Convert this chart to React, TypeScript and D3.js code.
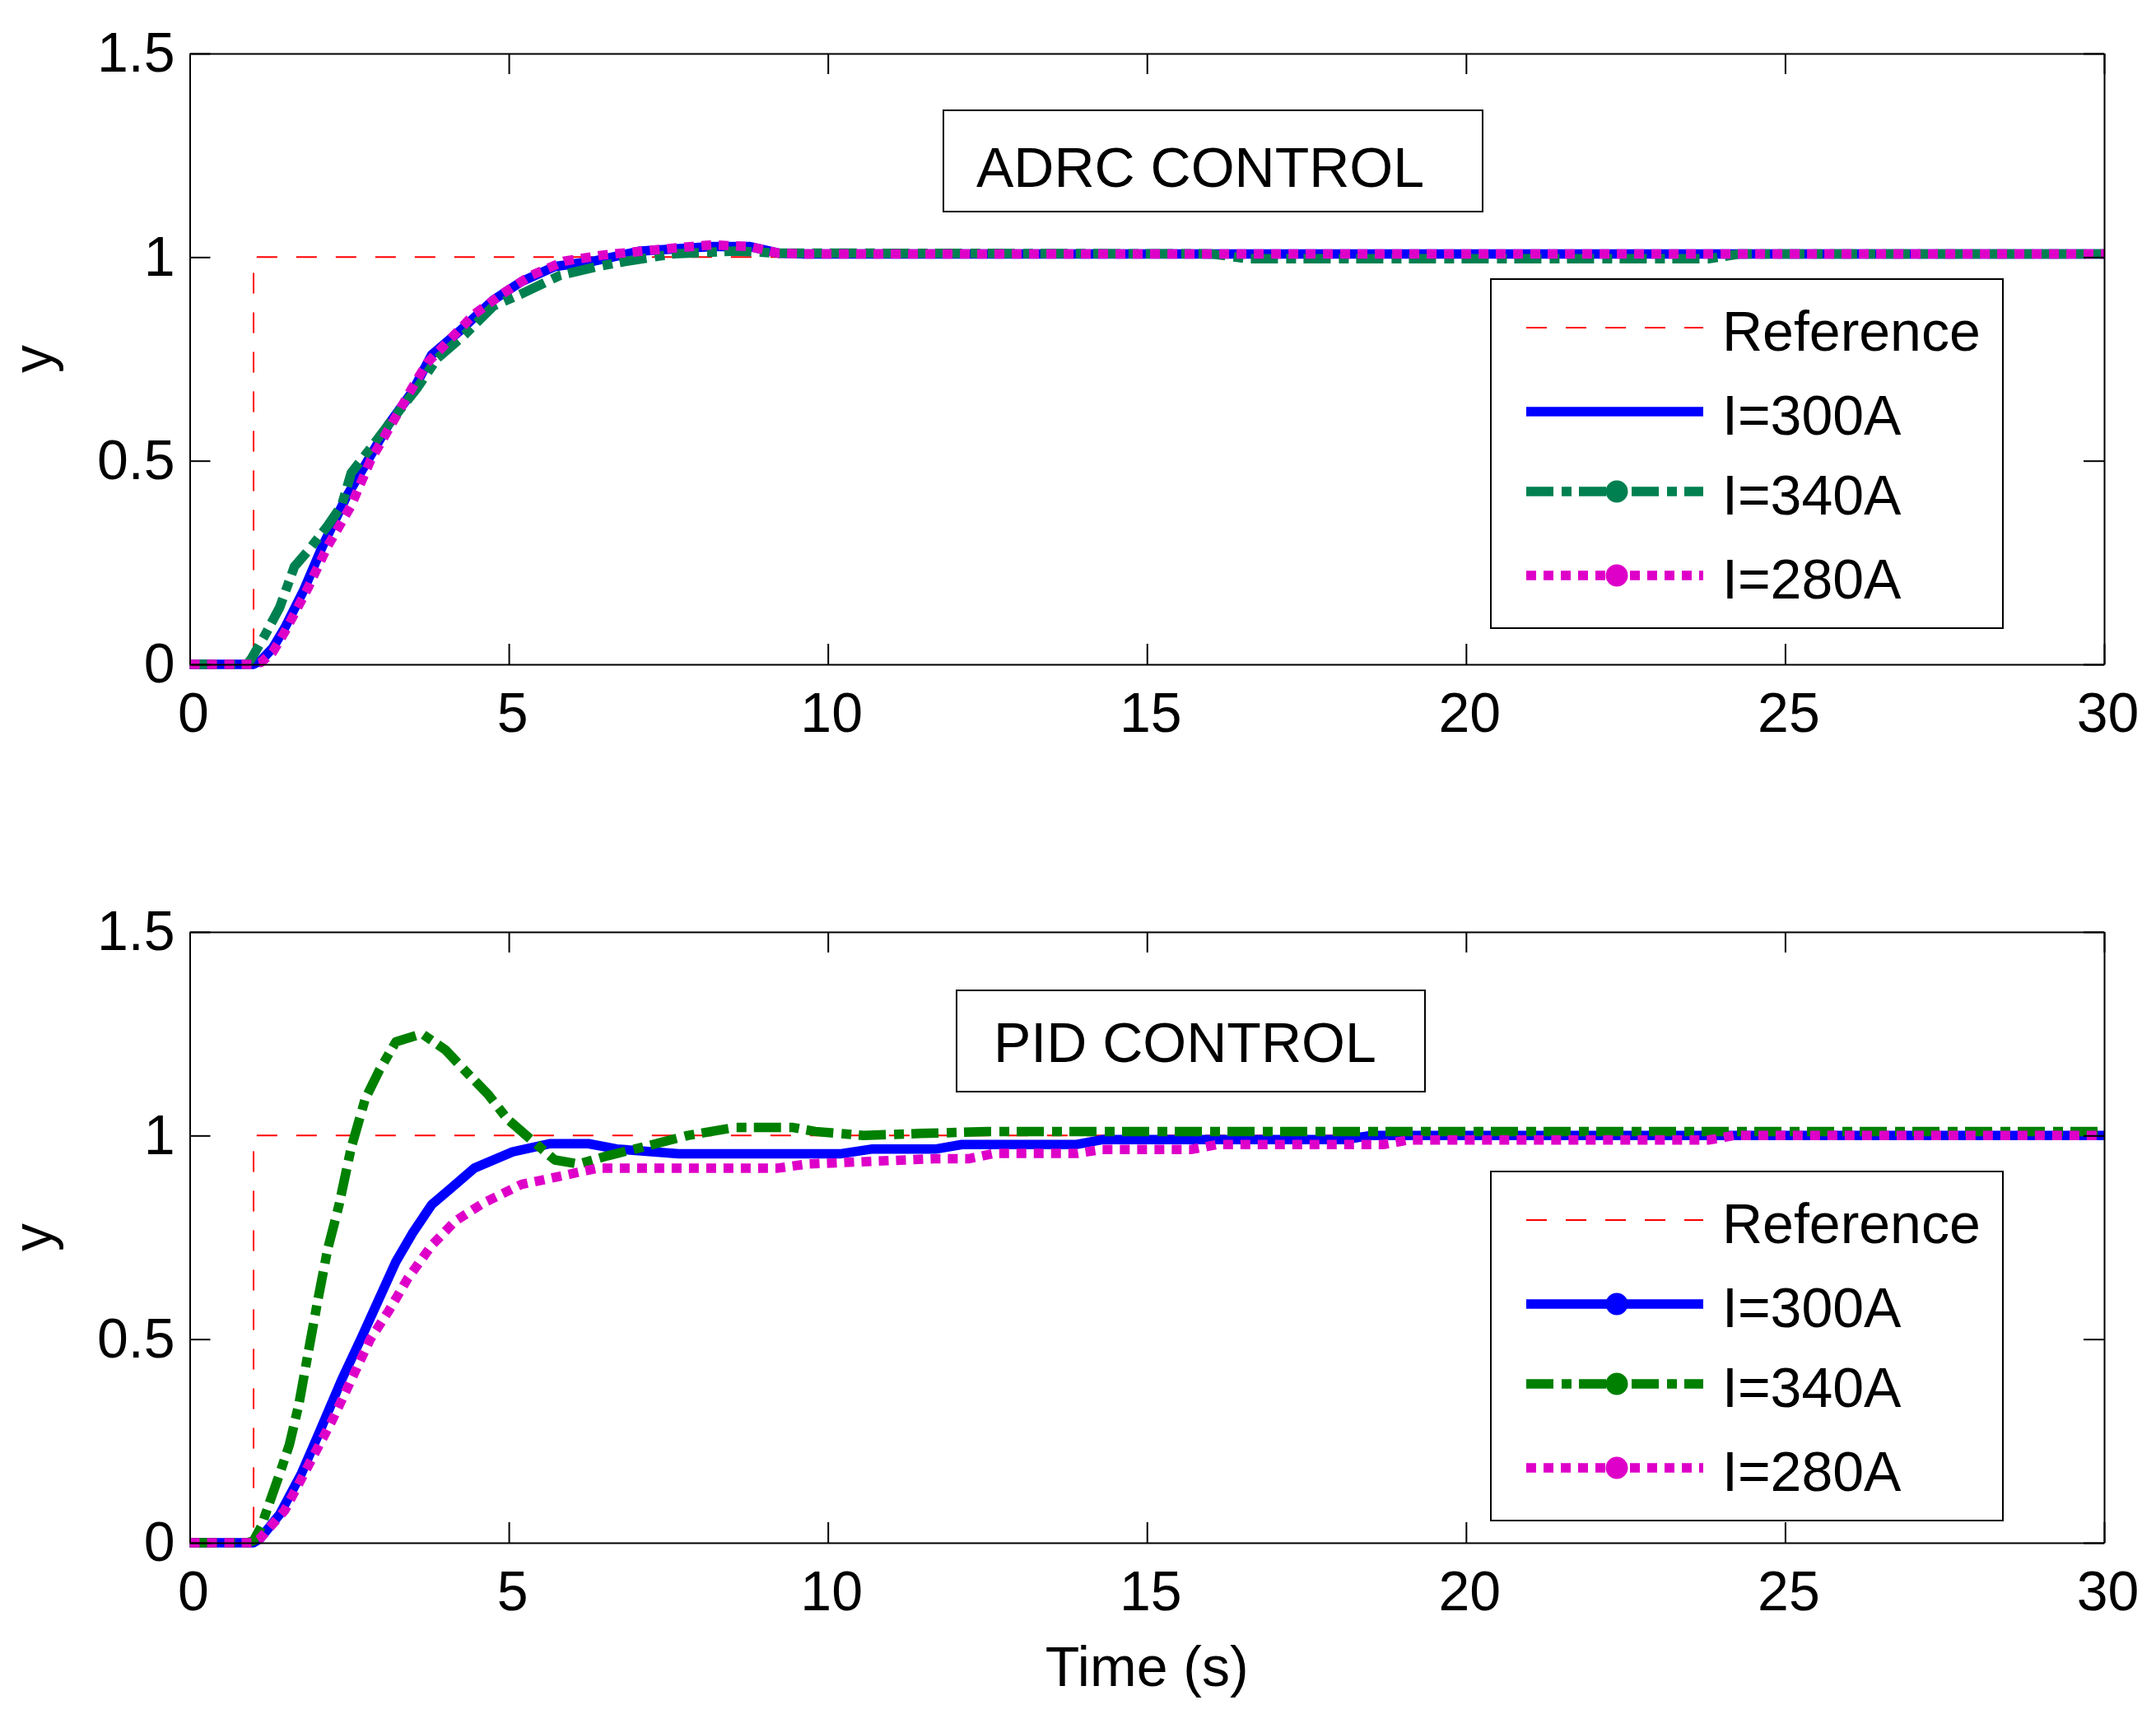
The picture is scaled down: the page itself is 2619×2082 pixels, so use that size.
import { useEffect, useRef } from 'react';
import * as d3 from 'd3';

// axis ticks and legend text
const timeTicks = [0, 5, 10, 15, 20, 25, 30];
const yTicks = [0, 0.5, 1, 1.5];
const legendLabels = ['Reference', 'I=300A', 'I=340A', 'I=280A'];

// reference step input
const refT = [0, 1, 1, 30];
const refY = [0, 0, 1, 1];

// ADRC responses
const adrc300T = [0, 1.0, 1.12, 1.3, 1.49, 1.78, 2.08, 2.45, 2.75, 3.12, 3.49, 3.79, 4.24, 4.76, 5.2, 5.72, 6.32, 7.06, 8.18, 8.77, 9.22, 9.6, 30];
const adrc300Y = [0, 0, 0.01, 0.04, 0.09, 0.18, 0.29, 0.41, 0.49, 0.59, 0.67, 0.76, 0.82, 0.895, 0.94, 0.977, 0.99, 1.015, 1.026, 1.026, 1.01, 1.008, 1.008];

const adrc340T = [0, 0.9, 0.97, 1.19, 1.41, 1.64, 1.86, 2.16, 2.38, 2.53, 2.83, 3.12, 3.57, 3.87, 4.31, 4.76, 5.2, 5.8, 6.39, 6.84, 7.58, 8.55, 9.22, 16, 16.6, 23.8, 24.3, 30];
const adrc340Y = [0, 0, 0.015, 0.075, 0.14, 0.24, 0.28, 0.34, 0.39, 0.47, 0.53, 0.59, 0.68, 0.75, 0.81, 0.88, 0.91, 0.955, 0.977, 0.99, 1.008, 1.015, 1.01, 1.008, 0.996, 0.996, 1.008, 1.008];

const adrc280T = [0, 1.0, 1.12, 1.3, 1.49, 1.86, 2.16, 2.53, 2.83, 3.2, 3.49, 3.72, 4.09, 4.46, 4.9, 5.35, 5.87, 6.47, 7.43, 8.18, 8.77, 9.22, 9.6, 30];
const adrc280Y = [0, 0, 0.005, 0.03, 0.08, 0.19, 0.29, 0.39, 0.5, 0.6, 0.68, 0.74, 0.8, 0.86, 0.91, 0.955, 0.99, 1.005, 1.02, 1.03, 1.026, 1.01, 1.008, 1.008];

// PID responses
const pid300T = [0, 1.0, 1.1, 1.41, 1.75, 2.0, 2.38, 2.68, 2.97, 3.23, 3.49, 3.79, 4.09, 4.46, 5.06, 5.65, 6.25, 6.69, 7.66, 10.19, 10.7, 11.7, 12.1, 13.9, 14.3, 18.1, 18.5, 30];
const pid300Y = [0, 0, 0.01, 0.07, 0.17, 0.26, 0.4, 0.5, 0.6, 0.69, 0.76, 0.83, 0.87, 0.92, 0.96, 0.98, 0.98, 0.967, 0.955, 0.955, 0.967, 0.967, 0.978, 0.978, 0.99, 0.99, 1.0, 1.0];

const pid340T = [0, 0.9, 1.0, 1.12, 1.41, 1.56, 1.71, 1.86, 2.0, 2.16, 2.34, 2.53, 2.75, 2.97, 3.23, 3.64, 4.01, 4.31, 4.68, 4.98, 5.35, 5.72, 6.1, 6.54, 7.06, 7.8, 8.55, 9.44, 9.8, 10.56, 11.45, 12.5, 30];
const pid340Y = [0, 0, 0.005, 0.04, 0.17, 0.24, 0.34, 0.47, 0.59, 0.72, 0.83, 0.97, 1.09, 1.16, 1.23, 1.25, 1.21, 1.16, 1.1, 1.04, 0.99, 0.94, 0.93, 0.95, 0.97, 1.0, 1.02, 1.02, 1.01, 1.0, 1.005, 1.01, 1.01];

const pid280T = [0, 1.0, 1.1, 1.49, 1.86, 2.23, 2.53, 2.83, 3.12, 3.42, 3.79, 4.16, 4.61, 5.2, 5.8, 6.39, 7.43, 9.22, 9.67, 11.66, 12.2, 12.6, 13.9, 14.3, 15.7, 16.1, 18.7, 19.1, 23.8, 24.2, 30];
const pid280Y = [0, 0, 0.01, 0.08, 0.19, 0.3, 0.4, 0.5, 0.57, 0.65, 0.73, 0.79, 0.835, 0.88, 0.9, 0.92, 0.92, 0.92, 0.93, 0.943, 0.943, 0.956, 0.956, 0.966, 0.966, 0.978, 0.978, 0.989, 0.989, 1.0, 1.0];

const W = 2619;
const H = 2082;
const FONT = 'Liberation Sans, Arial, Helvetica, sans-serif';
const FS = 68;

const plotLeft = 230.5;
const plotRight = 2556;
const plotH = 742;

const styles = {
  ref: { dash: '25,23', width: 2 },
  s300: { dash: null, width: 11.5 },
  s340: { dash: '33,10,12,9', width: 11.5 },
  s280: { dash: '12,9', width: 11.5 },
};

const panels = [
  {
    top: 65,
    title: 'ADRC CONTROL',
    titleBox: { x: 1146, y: 134, w: 655, h: 123, tx: 1186, ty: 227 },
    legend: { x: 1811, y: 339, w: 622, h: 424 },
    colors: ['#ff0000', '#0000ff', '#008050', '#de00c8'],
    markers: [false, false, true, true],
    series: [[refT, refY], [adrc300T, adrc300Y], [adrc340T, adrc340Y], [adrc280T, adrc280Y]],
  },
  {
    top: 1132,
    title: 'PID CONTROL',
    titleBox: { x: 1162, y: 1203, w: 569, h: 123, tx: 1207, ty: 1290 },
    legend: { x: 1811, y: 1423, w: 622, h: 424 },
    colors: ['#ff0000', '#0000ff', '#008000', '#de00c8'],
    markers: [false, true, true, true],
    series: [[refT, refY], [pid300T, pid300Y], [pid340T, pid340Y], [pid280T, pid280Y]],
  },
];

const lineStyles = [styles.ref, styles.s300, styles.s340, styles.s280];
const legendRows = [59, 161, 258, 360];

export default function App() {
  const svgRef = useRef<SVGSVGElement>(null);

  useEffect(() => {
    if (!svgRef.current) return;
    const svg = d3.select(svgRef.current);
    svg.selectAll('*').remove();

    svg.append('rect').attr('width', W).attr('height', H).attr('fill', '#fff');

    const x = d3.scaleLinear().domain([0, 30]).range([plotLeft, plotRight]);

    panels.forEach((p) => {
      const bottom = p.top + plotH;
      const y = d3.scaleLinear().domain([0, 1.5]).range([bottom, p.top]);
      const g = svg.append('g');

      // curves, reference first so the responses sit on top
      p.series.forEach(([ts, ys], i) => {
        const line = d3
          .line<number>()
          .x((_, k) => x(ts[k]))
          .y((d) => y(d));
        const st = lineStyles[i];
        g.append('path')
          .attr('d', line(ys) || '')
          .attr('fill', 'none')
          .attr('stroke', p.colors[i])
          .attr('stroke-width', st.width)
          .attr('stroke-dasharray', st.dash)
          .attr('stroke-linecap', 'butt')
          .attr('stroke-linejoin', 'round');
      });

      // axes on all four sides, ticks pointing in
      const styleAxis = (sel: any) => {
        sel.select('.domain').attr('stroke', '#000').attr('stroke-width', 2);
        sel.selectAll('.tick line').attr('stroke', '#000').attr('stroke-width', 2);
        sel.selectAll('text').attr('fill', '#000').style('font-family', FONT).style('font-size', `${FS}px`);
      };

      g.append('g')
        .attr('transform', `translate(0,${bottom})`)
        .call(d3.axisBottom(x).tickValues(timeTicks).tickSize(-25).tickSizeOuter(0).tickPadding(34).tickFormat((d) => String(d)))
        .call(styleAxis)
        .selectAll('text')
        .attr('x', 4);

      g.append('g')
        .attr('transform', `translate(0,${p.top})`)
        .call(d3.axisTop(x).tickValues(timeTicks).tickSize(-25).tickSizeOuter(0).tickFormat(() => ''))
        .call(styleAxis);

      g.append('g')
        .attr('transform', `translate(${plotLeft},0)`)
        .call(d3.axisLeft(y).tickValues(yTicks).tickSize(-25).tickSizeOuter(0).tickPadding(18).tickFormat((d) => String(d)))
        .call(styleAxis);

      g.append('g')
        .attr('transform', `translate(${plotRight},0)`)
        .call(d3.axisRight(y).tickValues(yTicks).tickSize(-25).tickSizeOuter(0).tickFormat(() => ''))
        .call(styleAxis);

      // y label
      g.append('text')
        .attr('transform', `translate(63,${(p.top + bottom) / 2}) rotate(-90)`)
        .attr('text-anchor', 'middle')
        .style('font-family', FONT)
        .style('font-size', `${FS}px`)
        .text('y');

      // title box
      const tb = p.titleBox;
      g.append('rect')
        .attr('x', tb.x).attr('y', tb.y).attr('width', tb.w).attr('height', tb.h)
        .attr('fill', '#fff').attr('stroke', '#000').attr('stroke-width', 2);
      g.append('text')
        .attr('x', tb.tx).attr('y', tb.ty)
        .style('font-family', FONT)
        .style('font-size', `${FS}px`)
        .text(p.title);

      // legend
      const lg = p.legend;
      g.append('rect')
        .attr('x', lg.x).attr('y', lg.y).attr('width', lg.w).attr('height', lg.h)
        .attr('fill', '#fff').attr('stroke', '#000').attr('stroke-width', 2);
      legendLabels.forEach((label, i) => {
        const ry = lg.y + legendRows[i];
        const st = lineStyles[i];
        g.append('line')
          .attr('x1', lg.x + 43).attr('x2', lg.x + 258)
          .attr('y1', ry).attr('y2', ry)
          .attr('stroke', p.colors[i])
          .attr('stroke-width', st.width)
          .attr('stroke-dasharray', st.dash)
          .attr('stroke-linecap', 'butt');
        if (p.markers[i]) {
          g.append('circle')
            .attr('cx', lg.x + 153).attr('cy', ry).attr('r', 13.5)
            .attr('fill', p.colors[i]);
        }
        g.append('text')
          .attr('x', lg.x + 281).attr('y', ry + 28)
          .style('font-family', FONT)
          .style('font-size', `${FS}px`)
          .text(label);
      });
    });

    // x label under the lower panel
    svg.append('text')
      .attr('x', (plotLeft + plotRight) / 2)
      .attr('y', 2048)
      .attr('text-anchor', 'middle')
      .style('font-family', FONT)
      .style('font-size', `${FS}px`)
      .text('Time (s)');
  }, []);

  return (
    <svg
      ref={svgRef}
      width={W}
      height={H}
      style={{ position: 'absolute', left: 0, top: 0, display: 'block' }}
    />
  );
}
